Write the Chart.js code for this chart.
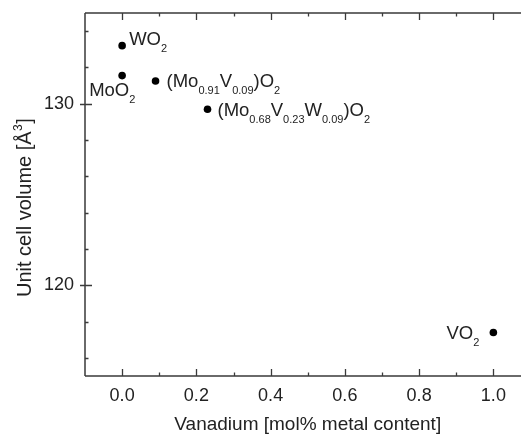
<!DOCTYPE html>
<html>
<head>
<meta charset="utf-8">
<script src="https://cdn.jsdelivr.net/npm/chart.js@4"></script>
<style>
html,body{margin:0;padding:0;overflow:hidden;background:#fff;width:521px;height:434px}
#wrap{position:relative;width:545px;height:434px}
canvas{display:block}
</style>
</head>
<body>
<div id="wrap"><canvas id="c" width="545" height="434"></canvas></div>
<script>
// ---- data ----
const vanadiumContent = [0, 0, 0.09, 0.23, 1.0];
const cellVolume = [133.2, 131.55, 131.25, 129.7, 117.4];
const compoundNames = ["WO_{2}", "MoO_{2}", "(Mo_{0.91}V_{0.09})O_{2}", "(Mo_{0.68}V_{0.23}W_{0.09})O_{2}", "VO_{2}"];
const xMajorTicks = [0, 0.2, 0.4, 0.6, 0.8, 1.0];
const xMinorTicks = [0.1, 0.3, 0.5, 0.7, 0.9];
const yMajorTicks = [120, 130];
const yMinorTicks = [116, 118, 122, 124, 126, 128, 132, 134];
const xTitle = "Vanadium [mol% metal content]";
const yTitleMain = "Unit cell volume [Å";
const yTitleSup = "3";
const yTitleEnd = "]";

// ---- styling / placement (not data) ----
const labelPlacement = [
  {dx: 7, dy: -1, align: 'left'},
  {dx: -33, dy: 20, align: 'left'},
  {dx: 11, dy: 6, align: 'left'},
  {dx: 10, dy: 7, align: 'left'},
  {dx: -14, dy: 7, align: 'right'}
];
const TEXT = '#222';
const AXIS = '#3a3a3a';
const FONT = '"Liberation Sans", Arial, sans-serif';

function parseSegments(s) {
  const out = [];
  const re = /_\{([^}]*)\}/g;
  let last = 0, m;
  while ((m = re.exec(s))) {
    if (m.index > last) out.push({t: s.slice(last, m.index), sub: false});
    out.push({t: m[1], sub: true});
    last = re.lastIndex;
  }
  if (last < s.length) out.push({t: s.slice(last), sub: false});
  return out;
}

const pointLabels = {
  id: 'pointLabels',
  afterDatasetsDraw(chart) {
    const ctx = chart.ctx;
    const meta = chart.getDatasetMeta(0);
    const mainF = '18.5px ' + FONT, subF = '11px ' + FONT;
    ctx.save();
    ctx.fillStyle = TEXT;
    ctx.textBaseline = 'alphabetic';
    ctx.textAlign = 'left';
    meta.data.forEach((pt, i) => {
      const segs = parseSegments(compoundNames[i]);
      const pl = labelPlacement[i];
      let total = 0;
      segs.forEach(sg => { ctx.font = sg.sub ? subF : mainF; total += ctx.measureText(sg.t).width; });
      let x = pt.x + pl.dx - (pl.align === 'right' ? total : 0);
      const y = pt.y + pl.dy;
      segs.forEach(sg => {
        ctx.font = sg.sub ? subF : mainF;
        ctx.fillText(sg.t, x, sg.sub ? y + 7 : y);
        x += ctx.measureText(sg.t).width;
      });
    });
    ctx.restore();
  }
};

const frame = {
  id: 'frame',
  afterDraw(chart) {
    const ctx = chart.ctx, a = chart.chartArea;
    const xs = chart.scales.x, ys = chart.scales.y;
    ctx.save();
    ctx.strokeStyle = AXIS;
    ctx.lineWidth = 1.5;
    ctx.beginPath();
    ctx.moveTo(a.left, a.top); ctx.lineTo(a.right, a.top);
    ctx.moveTo(a.left, a.bottom); ctx.lineTo(a.right, a.bottom);
    ctx.moveTo(a.left, a.top); ctx.lineTo(a.left, a.bottom);
    ctx.moveTo(a.right, a.top); ctx.lineTo(a.right, a.bottom);
    ctx.stroke();
    ctx.lineWidth = 1.3;
    ctx.beginPath();
    xMajorTicks.forEach(v => {
      const p = Math.round(xs.getPixelForValue(v)) + 0.5;
      ctx.moveTo(p, a.bottom); ctx.lineTo(p, a.bottom - 7);
      ctx.moveTo(p, a.top); ctx.lineTo(p, a.top + 7);
    });
    xMinorTicks.forEach(v => {
      const p = Math.round(xs.getPixelForValue(v)) + 0.5;
      ctx.moveTo(p, a.bottom); ctx.lineTo(p, a.bottom - 3.5);
      ctx.moveTo(p, a.top); ctx.lineTo(p, a.top + 3.5);
    });
    yMajorTicks.forEach(v => {
      const p = Math.round(ys.getPixelForValue(v)) + 0.5;
      ctx.moveTo(a.left - 5, p); ctx.lineTo(a.left + 7, p);
    });
    yMinorTicks.forEach(v => {
      const p = Math.round(ys.getPixelForValue(v)) + 0.5;
      ctx.moveTo(a.left, p); ctx.lineTo(a.left + 3.5, p);
    });
    ctx.stroke();

    // y axis title with superscript
    const mainF = '20px ' + FONT, supF = '12px ' + FONT;
    ctx.fillStyle = TEXT;
    ctx.translate(31, 297);
    ctx.rotate(-Math.PI / 2);
    ctx.textBaseline = 'alphabetic';
    ctx.textAlign = 'left';
    ctx.font = mainF;
    ctx.fillText(yTitleMain, 0, 0);
    let w = ctx.measureText(yTitleMain).width;
    ctx.font = supF;
    ctx.fillText(yTitleSup, w + 0.5, -9);
    w += ctx.measureText(yTitleSup).width + 1;
    ctx.font = mainF;
    ctx.fillText(yTitleEnd, w, 0);
    ctx.restore();
  }
};

new Chart(document.getElementById('c'), {
  type: 'scatter',
  data: {
    datasets: [{
      data: vanadiumContent.map((v, i) => ({x: v, y: cellVolume[i]})),
      backgroundColor: '#000',
      borderColor: '#000',
      pointRadius: 3.8,
      pointHoverRadius: 3.8,
      borderWidth: 0
    }]
  },
  options: {
    responsive: false,
    devicePixelRatio: 1,
    animation: false,
    layout: {padding: {left: 0, top: 13, right: 14.5, bottom: 0}},
    plugins: {legend: {display: false}, tooltip: {enabled: false}},
    scales: {
      x: {
        type: 'linear', min: -0.1, max: 1.1,
        afterBuildTicks: s => { s.ticks = xMajorTicks.map(v => ({value: v})); },
        afterFit: s => { s.height = 58; s.paddingLeft = 0; s.paddingRight = 0; },
        grid: {display: false, drawTicks: false},
        border: {display: false},
        ticks: {color: TEXT, font: {family: FONT, size: 18}, padding: 9,
                callback: v => v.toFixed(1), maxRotation: 0, autoSkip: false},
        title: {display: true, text: xTitle, color: TEXT,
                font: {family: FONT, size: 19, lineHeight: 1}, padding: {top: 0, bottom: 0}}
      },
      y: {
        type: 'linear', min: 115, max: 135,
        afterBuildTicks: s => { s.ticks = yMajorTicks.map(v => ({value: v})); },
        afterFit: s => { s.width = 85; s.paddingTop = 0; s.paddingBottom = 0; },
        grid: {display: false, drawTicks: false},
        border: {display: false},
        ticks: {color: TEXT, font: {family: FONT, size: 18}, padding: 11,
                callback: v => String(v), autoSkip: false}
      }
    }
  },
  plugins: [frame, pointLabels]
});
</script>
</body>
</html>
